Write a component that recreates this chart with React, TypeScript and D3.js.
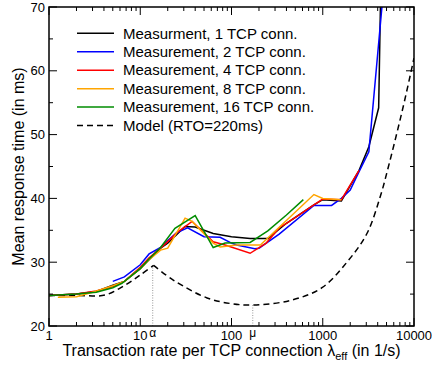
import React from 'react';
import * as d3 from 'd3';

const W = 432;
const H = 368;
const margin = { top: 7, right: 18, bottom: 42, left: 49 };

// measured mean response time [rate (1/s), ms]
const conn1 = [
  [1, 24.8], [2, 25.0], [3.3, 25.4], [5, 26.4], [6.7, 27.0], [10, 29.0], [12.5, 30.4],
  [16.7, 32.2], [20, 33.0], [25, 34.3], [31, 35.6], [40, 35.5], [63, 34.5], [100, 34.0],
  [160, 33.7], [250, 33.7], [400, 36.1], [800, 39.0], [1000, 39.8], [1600, 39.6],
  [2500, 44.4], [3200, 48.1], [4100, 54.2], [5000, 125],
];
const conn2 = [
  [5, 27.0], [6.7, 27.7], [10, 29.6], [12.5, 31.3], [16.7, 32.3], [20, 33.4], [25, 34.6],
  [33, 35.4], [50, 34.0], [75, 33.9], [100, 33.0], [114, 32.7], [180, 32.1], [200, 32.2],
  [333, 34.4], [800, 38.9], [1250, 38.9], [1600, 40.0], [2000, 41.3], [2500, 44.2],
  [3200, 47.3], [5000, 78],
];
const conn4 = [
  [1, 24.8], [2, 25.0], [3.3, 25.5], [5, 26.2], [6.7, 27.0], [10, 29.2], [12.5, 30.7],
  [16.7, 32.2], [21, 33.5], [25, 34.6], [37, 36.4], [63, 33.2], [85, 32.7], [160, 31.4],
  [240, 33.0], [340, 35.5], [400, 36.1], [800, 39.0], [1000, 39.9], [1600, 39.8], [2500, 44.4],
];
const conn8 = [
  [1.25, 24.5], [2, 24.6], [3.2, 25.4], [5, 26.3], [6.7, 27.0], [10, 29.0], [12.5, 30.4],
  [16.7, 31.9], [20, 32.2], [31, 36.9], [37, 36.4], [63, 33.0], [75, 32.4], [114, 32.7],
  [207, 32.7], [800, 40.6], [1000, 40.0], [1600, 39.8],
];
const conn16 = [
  [1, 24.8], [2, 25.0], [3.3, 25.3], [5, 26.0], [6.3, 26.7], [10, 29.0], [12.5, 30.5],
  [16.7, 32.3], [24, 35.3], [40, 37.3], [63, 32.3], [85, 33.0], [160, 33.1], [250, 34.9],
  [400, 37.4], [613, 39.8],
];
// model, split at the peak (alpha)
const modelLeft = [[1, 24.8], [2, 24.8], [4.1, 24.85], [6.8, 26.4], [10, 28.0], [14, 29.5]];
const modelRight = [
  [14, 29.5], [23, 27.2], [54, 24.4], [100, 23.5], [171, 23.3], [440, 24.0], [980, 26.0],
  [1840, 30.0], [3050, 34.5], [4270, 40.3], [5250, 45.0], [6480, 50.2], [7940, 55.5],
  [10000, 62],
];
const alpha = 13.7;
const mu = 171;

const xTicks = [1, 10, 100, 1000, 10000];
const xTickLabels = ['1', '10', '100', '1000', '10000'];
const yTicks = [20, 30, 40, 50, 60, 70];
const yMinor = [25, 35, 45, 55, 65];

const series = [
  { name: 'Measurment, 1 TCP conn.', color: '#000000', data: conn1 },
  { name: 'Measurement, 2 TCP conn.', color: '#0000ff', data: conn2 },
  { name: 'Measurement, 4 TCP conn.', color: '#ff0000', data: conn4 },
  { name: 'Measurement, 8 TCP conn.', color: '#ffa500', data: conn8 },
  { name: 'Measurement, 16 TCP conn.', color: '#008c00', data: conn16 },
];

const font = '"Liberation Sans", Arial, Helvetica, sans-serif';

export default function App() {
  const x = d3.scaleLog().domain([1, 10000]).range([margin.left, W - margin.right]);
  const y = d3.scaleLinear().domain([20, 70]).range([H - margin.bottom, margin.top]);
  const x0 = margin.left, x1 = W - margin.right;
  const y0 = H - margin.bottom, y1 = margin.top;

  const line = d3.line<number[]>().x((d) => x(d[0])).y((d) => y(d[1]));
  const smooth = d3
    .line<number[]>()
    .x((d) => x(d[0]))
    .y((d) => y(d[1]))
    .curve(d3.curveCatmullRom);

  const minorX = x.ticks().filter((t) => !xTicks.includes(t));

  return (
    <svg
      width={W}
      height={H}
      style={{ position: 'absolute', left: 0, top: 0, background: '#fff' }}
      fontFamily={font}
    >
      <defs>
        <clipPath id="plot">
          <rect x={x0} y={y1} width={x1 - x0} height={y0 - y1} />
        </clipPath>
      </defs>

      {/* guides at alpha and mu */}
      <line x1={x(alpha)} x2={x(alpha)} y1={y0} y2={y(29.3)} stroke="#999" strokeDasharray="1,1.5" />
      <line x1={x(mu)} x2={x(mu)} y1={y0} y2={y(23.3)} stroke="#999" strokeDasharray="1,1.5" />

      <g clipPath="url(#plot)" fill="none">
        <path
          d={(smooth(modelLeft) || '') + (smooth(modelRight) || '')}
          stroke="#000"
          strokeWidth={1.5}
          strokeDasharray="6,4"
        />
        {series.map((s) => (
          <path key={s.name} d={line(s.data) || ''} stroke={s.color} strokeWidth={1.5} />
        ))}
      </g>

      {/* frame and ticks */}
      <rect x={x0} y={y1} width={x1 - x0} height={y0 - y1} fill="none" stroke="#000" strokeWidth={1.5} />
      <g stroke="#000" strokeWidth={1}>
        {xTicks.map((t) => (
          <g key={'xt' + t}>
            <line x1={x(t)} x2={x(t)} y1={y0} y2={y0 - 8} />
            <line x1={x(t)} x2={x(t)} y1={y1} y2={y1 + 8} />
          </g>
        ))}
        {minorX.map((t) => (
          <g key={'xm' + t}>
            <line x1={x(t)} x2={x(t)} y1={y0} y2={y0 - 4} />
            <line x1={x(t)} x2={x(t)} y1={y1} y2={y1 + 4} />
          </g>
        ))}
        {yTicks.map((t) => (
          <g key={'yt' + t}>
            <line x1={x0} x2={x0 + 8} y1={y(t)} y2={y(t)} />
            <line x1={x1} x2={x1 - 8} y1={y(t)} y2={y(t)} />
          </g>
        ))}
        {yMinor.map((t) => (
          <g key={'ym' + t}>
            <line x1={x0} x2={x0 + 4} y1={y(t)} y2={y(t)} />
            <line x1={x1} x2={x1 - 4} y1={y(t)} y2={y(t)} />
          </g>
        ))}
      </g>

      {/* tick labels */}
      <g fontSize={13} fill="#000">
        {xTicks.map((t, i) => (
          <text key={'xl' + t} x={x(t)} y={y0 + 14} textAnchor="middle">
            {xTickLabels[i]}
          </text>
        ))}
        <text x={x(alpha)} y={y0 + 11} textAnchor="middle" fontSize={12}>α</text>
        <text x={x(mu)} y={y0 + 11} textAnchor="middle" fontSize={12}>μ</text>
        {yTicks.map((t) => (
          <text key={'yl' + t} x={x0 - 4} y={y(t)} dy="0.35em" textAnchor="end">
            {t}
          </text>
        ))}
      </g>

      {/* axis titles */}
      <text x={(x0 + x1) / 2} y={H - 12} textAnchor="middle" fontSize={16}>
        Transaction rate per TCP connection λ
        <tspan fontSize={11} dy={4}>eff</tspan>
        <tspan dy={-4}> (in 1/s)</tspan>
      </text>
      <text transform={`translate(24,${(y0 + y1) / 2}) rotate(-90)`} textAnchor="middle" fontSize={16}>
        Mean response time (in ms)
      </text>

      {/* legend */}
      <g fontSize={15}>
        {series.map((s, i) => (
          <g key={'lg' + s.name} transform={`translate(0,${33.3 + i * 18.45})`}>
            <line x1={77} x2={114} y1={0} y2={0} stroke={s.color} strokeWidth={1.5} />
            <text x={123} y={0} dy="0.35em">{s.name}</text>
          </g>
        ))}
        <g transform={`translate(0,${33.3 + 5 * 18.45})`}>
          <line x1={77} x2={114} y1={0} y2={0} stroke="#000" strokeWidth={1.5} strokeDasharray="6,4" />
          <text x={123} y={0} dy="0.35em">Model (RTO=220ms)</text>
        </g>
      </g>
    </svg>
  );
}
